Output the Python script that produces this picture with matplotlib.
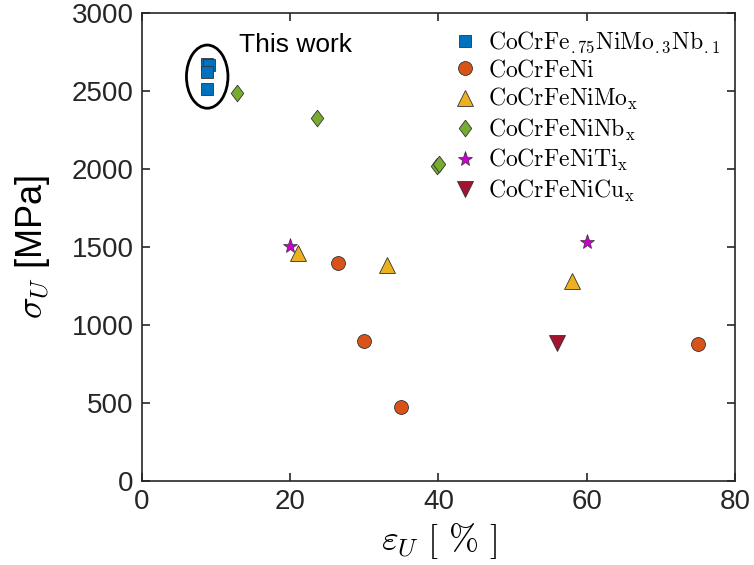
import matplotlib
matplotlib.use("Agg")
import matplotlib.pyplot as plt
from matplotlib.patches import Ellipse

plt.rcParams['font.family'] = ['Liberation Sans', 'DejaVu Sans']
plt.rcParams['mathtext.fontset'] = 'cm'

# data: strain [%] and strength [MPa]
this_work_eps = [8.8, 9.1, 8.8, 8.8]
this_work_sig = [2670, 2665, 2620, 2515]
ni_eps = [26.5, 30, 35, 75]
ni_sig = [1400, 900, 475, 875]
mo_eps = [21, 33, 58]
mo_sig = [1460, 1385, 1285]
nb_eps = [12.8, 23.6, 39.8, 40.1]
nb_sig = [2485, 2330, 2020, 2030]
ti_eps = [20, 60]
ti_sig = [1505, 1530]
cu_eps = [56]
cu_sig = [885]

labels = [r'$\mathrm{CoCrFe_{.75}NiMo_{.3}Nb_{.1}}$',
          r'$\mathrm{CoCrFeNi}$',
          r'$\mathrm{CoCrFeNiMo_x}$',
          r'$\mathrm{CoCrFeNiNb_x}$',
          r'$\mathrm{CoCrFeNiTi_x}$',
          r'$\mathrm{CoCrFeNiCu_x}$']

fig = plt.figure(figsize=(7.54, 5.65), dpi=100)
ax = fig.add_axes([0.1883, 0.1487, 0.7865, 0.8283])

ec = '#333333'
diamond = [(0, 1), (0.75, 0), (0, -1), (-0.75, 0), (0, 1)]

ax.plot(this_work_eps, this_work_sig, 's', color='#0072BD', mec=ec, mew=0.6, ms=9, label=labels[0])
ax.plot(ni_eps, ni_sig, 'o', color='#D95319', mec=ec, mew=0.6, ms=10, label=labels[1])
ax.plot(mo_eps, mo_sig, '^', color='#EDB120', mec=ec, mew=0.6, ms=11, label=labels[2])
ax.plot(nb_eps, nb_sig, marker=diamond, ls='none', color='#77AC30', mec=ec, mew=0.6, ms=12, label=labels[3])
ax.plot(ti_eps, ti_sig, '*', color='#CC00CC', mec=ec, mew=0.5, ms=11, label=labels[4])
ax.plot(cu_eps, cu_sig, 'v', color='#A2142F', mec=ec, mew=0.6, ms=11, label=labels[5])

ax.add_patch(Ellipse((8.8, 2592), 5.6, 405, fill=False, ec='black', lw=2))
ax.text(13.1, 2795, 'This work', fontsize=19, va='center', ha='left')

ax.set_xlim(0, 80)
ax.set_ylim(0, 3000)
ax.set_xticks([0, 20, 40, 60, 80])
ax.set_yticks([0, 500, 1000, 1500, 2000, 2500, 3000])
ax.tick_params(direction='in', length=6, width=1.2, labelsize=20, colors='#262626',
               top=True, right=True, pad=6)
for s in ax.spines.values():
    s.set_linewidth(1.2)
    s.set_color('#262626')

ax.set_xlabel(r'$\varepsilon_U\ [\ \%\ ]$', fontsize=26, labelpad=4)
ax.set_ylabel(r'$\sigma_U$ [MPa]', fontsize=26, labelpad=14)

leg = ax.legend(loc='upper right', frameon=False, fontsize=17, handletextpad=0.4,
                labelspacing=0.19, borderaxespad=0.3, handlelength=1.2,
                bbox_to_anchor=(1.003, 1.0))

fig.savefig('out.png', dpi=100)
